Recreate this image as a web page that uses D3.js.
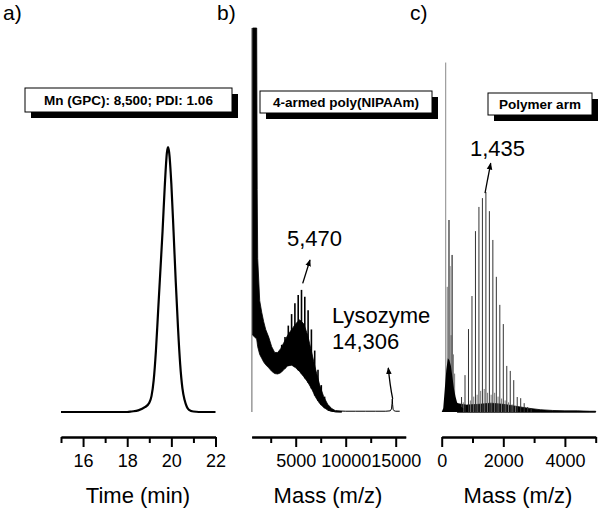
<!DOCTYPE html>
<html><head><meta charset="utf-8">
<script src="https://cdn.jsdelivr.net/npm/d3@7"></script>
<style>
body{margin:0;background:#fff}
text{font-family:Arial,"Liberation Sans",sans-serif;fill:#000}
</style>
</head><body>
<svg id="chart" width="600" height="513"></svg>
<script>
// ---------- Panel a: GPC trace ----------
const gpcTime   = [15.0,16.0,17.0,18.0,18.2,18.5,18.8,19.0,19.1,19.2,19.3,19.4,19.5,19.6,19.7,19.8,19.85,19.9,20.0,20.1,20.2,20.3,20.4,20.5,20.6,20.7,20.8,21.0,21.5,22.0];
const gpcSignal = [0,0,0,0,0.002,0.006,0.018,0.035,0.06,0.12,0.23,0.38,0.53,0.68,0.85,0.98,1.0,0.98,0.86,0.68,0.49,0.32,0.18,0.09,0.045,0.02,0.008,0.002,0,0];
const gpcMajorTicks = [16,18,20,22];
const gpcMinorTicks = [15,17,19,21];

// ---------- Panel b: 4-armed poly(NIPAAm) MALDI ----------
const bBandMass = [700,1100,1150,1200,1400,1600,1800,2000,2300,2600,2900,3200,3500,3800,4200,4600,5000,5400,5800,6200,6600,7000,7400,7800,8200,8600,9000,9600];
const bBandHigh = [100,100,58,40,29,26,23.5,21.5,19.5,17,15.5,15.5,16.5,18,20,21.5,23,24,23,20,15.5,11,7,4,2,0.9,0.3,0.1];
const bBandLow  = [20,19,18,17,15,14,13,12.3,11.5,10.6,10,9.9,10.2,11,12,12.2,11.5,10.5,9.2,7.8,6,3.8,2.2,1.2,0.5,0.2,0.05,0];
const bStripeMass = [3600,3930,4260,4590,4920,5250,5580,5910,6240,6570,6900,7230,7560,7890];
const bStripeTop  = [17.5,19.5,22.5,25.5,28.3,30.5,31.8,30.0,26.5,21.5,16,11,7,4];
const bStripeBase = [10.6,11.3,12,12.2,11.7,10.9,10,8.8,7.6,6.1,4.3,2.9,1.8,1];
const bEdgeMass = [620];
const bEdgeTop  = [100];
const bTailMass = [9000,10000,11000,12000,13000,14000,14450,14580,14630,14660,14690,14740,14850,15000,15400];
const bTailI    = [0.3,0.2,0.2,0.2,0.2,0.2,0.3,0.8,2.2,3.4,2.0,0.7,0.3,0.2,0.2];
const bMajorTicks = [5000,10000,15000];
const bMinorTicks = [2500,7500,12500];

// ---------- Panel c: polymer arm MALDI ----------
const cBlobMass = [0,50,100,150,200,250,300,350,400,450,500,600,700];
const cBlobI    = [0,1,6,11,14,13.5,12,9,6,4,2.5,1.5,1];
const cLowMass  = [130,180,237,270,300,337,380,420];
const cLowI     = [91,32.6,50,38,20,40.9,15,10];
const cLowColor = ["#888","#777","#000","#777","#777","#000","#777","#777"];
const cPeakMass = [531,644,757,870,983,1096,1209,1322,1435,1548,1661,1774,1887,2000,2113,2226,2339,2452,2565,2678,2791,2904];
const cPeakI    = [1.8,3.9,9.6,21.6,30.2,47.1,53.4,55.7,57.3,52.3,44.8,35.2,27.9,22.9,12.0,10.7,8.3,3.9,3.6,2.3,1.3,0.8];
const cMinorMass = [700,930,1040,1150,1265,1380,1490,1605,1720,1830,1945,2060,2170,2285,2400];
const cMinorI    = [2.5,3,4,4.5,5.5,6,5,4.5,5,4,3.5,3,2.5,2,1.5];
const cNoiseMass = [500,800,1200,1600,2000,2400,2800,3200,3600,4000,4400,4800,5000];
const cNoiseI    = [2.2,1.8,2.0,2.3,2.0,1.5,1.0,0.6,0.4,0.3,0.3,0.2,0.2];
const cMajorTicks = [0,2000,4000];
const cMinorTicks = [1000,3000,5000];

// ---------- Text ----------
const panelLabels = ["a)","b)","c)"];
const boxTexts = ["Mn (GPC): 8,500; PDI: 1.06","4-armed poly(NIPAAm)","Polymer arm"];
const axisTitles = ["Time (min)","Mass (m/z)","Mass (m/z)"];

const svg = d3.select("#chart");
svg.append("rect").attr("width",600).attr("height",513).attr("fill","#fff");

const xA = d3.scaleLinear().domain([15,22]).range([61,215.5]);
const yA = d3.scaleLinear().domain([0,1]).range([412,147]);
const xB = d3.scaleLinear().domain([600,16000]).range([251.7,405.7]);
const xC = d3.scaleLinear().domain([0,5000]).range([441.7,595.7]);
const yMS = d3.scaleLinear().domain([0,100]).range([412,28]);

const defs = svg.append("defs");
defs.append("marker").attr("id","arr").attr("viewBox","0 0 10 10")
  .attr("refX",9).attr("refY",5).attr("markerWidth",7).attr("markerHeight",7)
  .attr("markerUnits","userSpaceOnUse").attr("orient","auto")
  .append("path").attr("d","M0,1 L10,5 L0,9 Z").attr("fill","#000");

// ----- panel a -----
const gA = svg.append("g");
gA.append("path")
  .datum(gpcTime.map((t,i)=>[t,gpcSignal[i]]))
  .attr("fill","none").attr("stroke","#000").attr("stroke-width",2.2)
  .attr("d", d3.line().x(d=>xA(d[0])).y(d=>yA(d[1])).curve(d3.curveMonotoneX));

// ----- panel b -----
const gB = svg.append("g");
gB.selectAll(".edge").data(bEdgeMass).enter().append("line")
  .attr("x1",d=>xB(d)).attr("x2",d=>xB(d))
  .attr("y1",yMS(0)).attr("y2",(d,i)=>yMS(bEdgeTop[i]))
  .attr("stroke","#666").attr("stroke-width",1);
gB.append("path")
  .datum(bBandMass.map((m,i)=>[m,bBandLow[i],bBandHigh[i]]))
  .attr("fill","#000").attr("stroke","#000").attr("stroke-width",0.8)
  .attr("d", d3.area().x(d=>xB(d[0])).y0(d=>yMS(d[1])).y1(d=>yMS(d[2])));
gB.selectAll(".stripe").data(bStripeMass).enter().append("line")
  .attr("x1",d=>xB(d)).attr("x2",d=>xB(d))
  .attr("y1",(d,i)=>yMS(bStripeBase[i])).attr("y2",(d,i)=>yMS(bStripeTop[i]))
  .attr("stroke","#000").attr("stroke-width",1.6);
gB.append("path")
  .datum(bTailMass.map((m,i)=>[m,bTailI[i]]))
  .attr("fill","none").attr("stroke","#000").attr("stroke-width",1)
  .attr("d", d3.line().x(d=>xB(d[0])).y(d=>yMS(d[1])));
gB.append("path")
  .datum(bBandMass.slice(-4).map((m,i)=>[m,bBandLow[bBandMass.length-4+i]]))
  .attr("fill","none").attr("stroke","#000").attr("stroke-width",1)
  .attr("d", d3.line().x(d=>xB(d[0])).y(d=>yMS(d[1])));

// ----- panel c -----
const gC = svg.append("g");
gC.append("path")
  .datum(cNoiseMass.map((m,i)=>[m,cNoiseI[i]]))
  .attr("fill","#000").attr("stroke","#000").attr("stroke-width",0.8)
  .attr("d", d3.area().x(d=>xC(d[0])).y0(yMS(0)).y1(d=>yMS(d[1])));
gC.append("line").attr("x1",xC(cNoiseMass[0])).attr("x2",xC(5000))
  .attr("y1",yMS(0)).attr("y2",yMS(0)).attr("stroke","#000").attr("stroke-width",1);
gC.selectAll(".minor").data(cMinorMass).enter().append("line")
  .attr("x1",d=>xC(d)).attr("x2",d=>xC(d))
  .attr("y1",yMS(0)).attr("y2",(d,i)=>yMS(cMinorI[i]))
  .attr("stroke","#777").attr("stroke-width",1);
gC.selectAll(".pk").data(cPeakMass).enter().append("line")
  .attr("x1",d=>xC(d)).attr("x2",d=>xC(d))
  .attr("y1",yMS(0)).attr("y2",(d,i)=>yMS(cPeakI[i]))
  .attr("stroke","#333").attr("stroke-width",1);
gC.selectAll(".low").data(cLowMass).enter().append("line")
  .attr("x1",d=>xC(d)).attr("x2",d=>xC(d))
  .attr("y1",yMS(0)).attr("y2",(d,i)=>yMS(cLowI[i]))
  .attr("stroke",(d,i)=>cLowColor[i]).attr("stroke-width",1);
gC.append("path")
  .datum(cBlobMass.map((m,i)=>[m,cBlobI[i]]))
  .attr("fill","#000")
  .attr("d", d3.area().x(d=>xC(d[0])).y0(yMS(0)).y1(d=>yMS(d[1])));

// ----- axes -----
function drawAxis(scale, major, minor, fmt){
  const g = svg.append("g").attr("transform","translate(0,437)");
  const aMin = d3.axisBottom(scale).tickValues(minor).tickSize(6).tickSizeOuter(0).tickFormat("");
  const aMaj = d3.axisBottom(scale).tickValues(major).tickSize(10).tickSizeOuter(0).tickPadding(7).tickFormat(fmt);
  const g1 = g.append("g").call(aMin);
  const g2 = g.append("g").call(aMaj);
  [g1,g2].forEach(gg=>{
    gg.selectAll("path,line").attr("stroke","#000").attr("stroke-width",2);
    gg.selectAll("text").attr("font-size",18).attr("font-family","Arial, 'Liberation Sans', sans-serif").attr("fill","#000");
  });
}
drawAxis(xA, gpcMajorTicks, gpcMinorTicks, d3.format("d"));
drawAxis(xB, bMajorTicks, bMinorTicks, d3.format("d"));
drawAxis(xC, cMajorTicks, cMinorTicks, d3.format("d"));

const titleX = [138, 328, 518];
axisTitles.forEach((t,i)=>{
  svg.append("text").attr("x",titleX[i]).attr("y",503).attr("text-anchor","middle")
    .attr("font-size",22).text(t);
});

const labelX = [3, 217, 410];
panelLabels.forEach((t,i)=>{
  svg.append("text").attr("x",labelX[i]).attr("y",20).attr("font-size",21).text(t);
});

const boxes = [[25,88,207,24],[260,91,172,22],[488,93,104,22]];
boxes.forEach((b,i)=>{
  svg.append("rect").attr("x",b[0]+6).attr("y",b[1]+6).attr("width",b[2]).attr("height",b[3]).attr("fill","#000");
  svg.append("rect").attr("x",b[0]).attr("y",b[1]).attr("width",b[2]).attr("height",b[3])
    .attr("fill","#fff").attr("stroke","#000").attr("stroke-width",1);
  svg.append("text").attr("x",b[0]+b[2]/2).attr("y",b[1]+b[3]/2+4.8)
    .attr("text-anchor","middle").attr("font-size",13.5).attr("font-weight","bold").text(boxTexts[i]);
});

function arrow(x1,y1,x2,y2){
  svg.append("line").attr("x1",x1).attr("y1",y1).attr("x2",x2).attr("y2",y2)
    .attr("stroke","#000").attr("stroke-width",1.3).attr("marker-end","url(#arr)");
}
arrow(xB(5700), yMS(33.5), xB(6430), yMS(39.6));
svg.append("text").attr("x",xB(4130)).attr("y",yMS(43.2)).attr("font-size",22).text("5,470");
svg.append("path")
  .attr("d",`M${xB(14700)},${yMS(3.4)} Q${xB(14420)},${yMS(7)} ${xB(14260)},${yMS(11.5)}`)
  .attr("fill","none").attr("stroke","#000").attr("stroke-width",1.3).attr("marker-end","url(#arr)");
svg.append("text").attr("x",xB(8630)).attr("y",yMS(23.2)).attr("font-size",22).text("Lysozyme");
svg.append("text").attr("x",xB(8630)).attr("y",yMS(16.4)).attr("font-size",22).text("14,306");
arrow(xC(1406), yMS(57.0), xC(1591), yMS(64.8));
svg.append("text").attr("x",xC(919)).attr("y",yMS(66.7)).attr("font-size",22).text("1,435");
</script>
</body></html>
